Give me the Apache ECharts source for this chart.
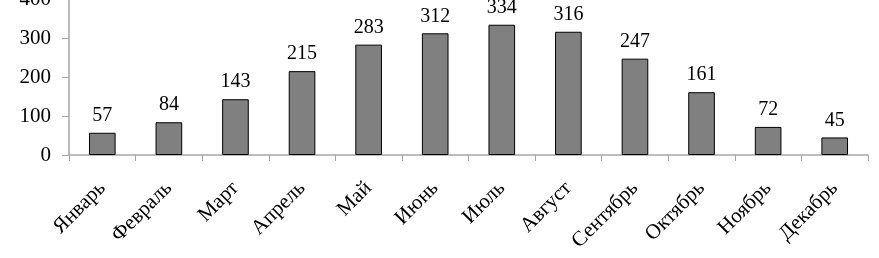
<!DOCTYPE html>
<html><head><meta charset="utf-8">
<script src="https://cdn.jsdelivr.net/npm/echarts@6/dist/echarts.min.js"></script>
<style>html,body{margin:0;padding:0;background:#fff}#c{width:879px;height:258px}</style>
</head><body><div id="c"></div>
<script>
var categories = ['Январь','Февраль','Март','Апрель','Май','Июнь','Июль','Август','Сентябрь','Октябрь','Ноябрь','Декабрь'];
var values = [57,84,143,215,283,312,334,316,247,161,72,45];
var yMin = 0, yMax = 400, yStep = 100;
var font = '"Liberation Serif","Times New Roman",serif';
var chart = echarts.init(document.getElementById('c'));
chart.setOption({
  animation:false,
  grid:{left:69,right:11,top:-1,bottom:103,containLabel:false,outerBoundsMode:'none'},
  xAxis:{type:'category',data:categories,
    axisLine:{lineStyle:{color:'#a6a6a6',width:1.5}},
    axisTick:{show:true,alignWithLabel:false,length:6,lineStyle:{color:'#a6a6a6'}},
    axisLabel:{rotate:45,interval:0,margin:30,color:'#000',fontFamily:font,fontSize:21}},
  yAxis:{type:'value',min:yMin,max:yMax,interval:yStep,
    axisLine:{show:true,lineStyle:{color:'#a6a6a6',width:1.5}},
    axisTick:{show:true,length:7,lineStyle:{color:'#a6a6a6'}},
    splitLine:{show:false},
    axisLabel:{margin:18,color:'#000',fontFamily:font,fontSize:21}},
  series:[{type:'bar',data:values,barWidth:'40%',
    itemStyle:{color:'#808080',borderColor:'#000',borderWidth:1},
    label:{show:true,position:'top',distance:7,color:'#000',fontFamily:font,fontSize:20}}]
});
</script></body></html>
